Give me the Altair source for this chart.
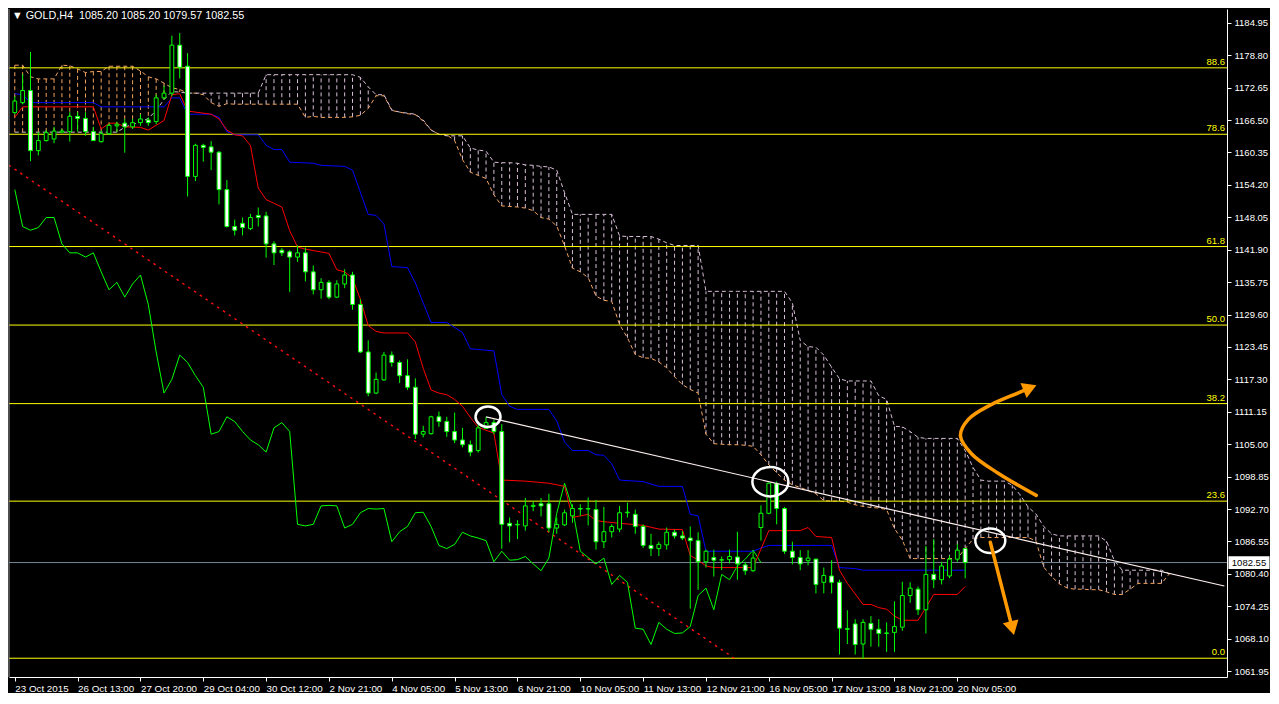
import altair as alt
import pandas as pd

W, H = 1218, 668
FONT = "Liberation Sans"

# ---------------- candles (bar index, OHLC) ----------------
opens = [1167.9,1169.8,1172.1,1160.7,1162.6,1162.9,1164.2,1164.3,1167.2,1166.8,
         1164.3,1162.4,1163.9,1165.4,1165.9,1165.2,1166.0,1166.5,1166.2,1170.7,
         1171.6,1180.7,1176.7,1155.8,1161.7,1161.4,1160.4,1153.3,1146.3,1146.9,
         1145.9,1148.4,1148.3,1143.0,1141.8,1141.5,1140.5,1141.3,1137.7,1134.3,
         1135.7,1132.9,1135.4,1137.1,1131.5,1122.5,1114.7,1117.2,1121.9,1120.5,
         1118.0,1115.8,1106.9,1107.0,1110.2,1109.3,1107.4,1105.8,1104.9,1103.8,
         1108.0,1109.1,1107.4,1090.0,1089.7,1089.5,1093.2,1093.7,1093.7,1089.1,
         1089.7,1091.4,1092.8,1092.7,1092.6,1086.5,1088.4,1088.9,1092.0,1091.7,
         1089.4,1085.8,1085.2,1085.9,1088.3,1087.6,1087.2,1086.7,1082.7,1083.5,
         1083.0,1083.1,1083.6,1082.1,1081.0,1089.2,1091.9,1097.5,1092.8,1084.7,
         1083.5,1082.9,1083.2,1078.8,1080.0,1078.8,1070.0,1070.9,1067.1,1071.0,
         1069.9,1069.1,1069.3,1070.3,1076.3,1077.5,1073.6,1080.3,1079.3,1080.0,
         1083.2,1085.20]
highs = [1171.0,1175.2,1179.4,1164.2,1164.6,1165.2,1164.8,1168.0,1168.0,1168.0,
         1165.2,1164.5,1165.9,1166.2,1166.7,1166.7,1167.6,1167.0,1171.3,1173.0,
         1182.5,1183.0,1179.2,1162.0,1162.0,1162.5,1160.6,1155.1,1147.6,1148.0,
         1148.7,1149.9,1149.1,1143.5,1142.2,1141.8,1142.7,1142.3,1138.9,1136.5,
         1136.1,1136.1,1138.2,1137.7,1132.5,1124.7,1118.6,1122.5,1122.6,1120.9,
         1121.1,1117.5,1108.5,1110.4,1111.2,1110.2,1111.0,1108.1,1105.7,1108.7,
         1110.2,1109.7,1108.8,1091.1,1090.6,1094.8,1094.2,1094.8,1095.6,1091.1,
         1092.6,1093.6,1093.6,1094.9,1094.4,1093.1,1089.8,1093.3,1093.9,1092.6,
         1089.8,1088.0,1086.5,1089.2,1088.8,1088.5,1089.4,1088.3,1085.0,1085.0,
         1083.7,1085.0,1088.4,1082.7,1084.9,1093.4,1097.7,1097.9,1093.1,1086.5,
         1084.9,1084.9,1083.3,1081.6,1083.0,1079.3,1073.5,1071.8,1071.8,1072.4,
         1071.8,1071.2,1075.2,1078.9,1078.8,1078.0,1085.7,1087.0,1082.7,1083.9,
         1086.1,1085.20]
lows = [1167.6,1169.5,1158.7,1159.8,1162.4,1162.1,1164.0,1162.4,1164.3,1163.5,
        1162.5,1162.2,1163.7,1164.2,1160.3,1164.8,1165.4,1165.4,1165.7,1170.4,
        1171.0,1174.4,1152.0,1154.9,1158.6,1157.0,1150.5,1146.1,1144.6,1144.6,
        1145.6,1146.3,1140.4,1139.0,1140.7,1133.9,1139.6,1135.9,1133.4,1132.6,
        1132.5,1132.7,1134.6,1130.5,1122.3,1114.1,1114.5,1117.0,1119.7,1116.6,
        1115.3,1106.0,1106.3,1106.8,1108.3,1106.4,1105.2,1104.4,1102.7,1103.4,
        1107.9,1106.9,1085.2,1086.4,1087.0,1088.6,1092.3,1091.3,1088.3,1088.0,
        1089.5,1090.1,1091.4,1089.6,1085.0,1085.3,1087.3,1088.3,1091.1,1088.0,
        1085.3,1083.8,1083.8,1085.0,1087.1,1086.8,1073.8,1077.4,1081.6,1079.9,
        1081.1,1082.4,1079.3,1080.2,1080.8,1086.7,1091.7,1089.8,1084.2,1082.2,
        1081.1,1082.0,1076.7,1076.7,1076.7,1065.1,1067.1,1065.1,1064.3,1066.6,
        1066.6,1065.6,1065.6,1069.6,1074.9,1072.6,1069.1,1077.7,1078.4,1079.6,
        1082.7,1079.57]
closes = [1170.1,1172.1,1160.7,1162.6,1164.1,1164.4,1164.4,1167.2,1166.8,1164.3,
          1162.6,1163.9,1165.5,1165.7,1165.2,1166.0,1166.7,1166.0,1170.7,1171.6,
          1180.7,1176.5,1155.8,1161.7,1161.3,1160.4,1153.3,1146.3,1145.6,1146.1,
          1148.0,1148.0,1143.0,1141.3,1141.3,1140.5,1141.3,1137.7,1134.3,1135.7,
          1132.9,1135.4,1137.1,1131.5,1122.5,1114.7,1117.3,1121.9,1120.5,1118.0,
          1115.8,1106.9,1107.4,1110.2,1109.3,1107.4,1105.8,1104.9,1103.5,1108.1,
          1109.1,1107.4,1089.8,1089.5,1089.8,1093.3,1093.4,1093.3,1089.1,1089.8,
          1092.0,1092.8,1092.7,1092.8,1086.5,1088.4,1089.4,1092.0,1092.1,1089.4,
          1085.8,1085.2,1086.0,1088.3,1087.6,1087.2,1086.7,1082.7,1084.7,1083.0,
          1083.1,1083.7,1082.3,1081.0,1083.4,1091.9,1097.6,1092.8,1084.7,1083.5,
          1082.3,1083.4,1078.4,1080.1,1078.8,1070.1,1069.9,1067.0,1071.2,1069.9,
          1069.1,1069.2,1070.4,1076.3,1077.7,1073.6,1080.3,1079.3,1081.9,1083.2,
          1084.9,1082.55]

# ---------------- Ichimoku ----------------
tenkan = [(0,1167.0),(1,1169.0),(10,1169.0),(11,1164.8),(12,1165.9),(13,1165.9),(14,1165.2),
          (16,1165.1),(17,1164.6),(19,1166.4),(20,1171.3),(21,1171.5),(22,1168.2),(25,1167.6),
          (26,1166.7),(27,1164.6),(28,1163.7),(29,1163.5),(30,1161.7),(31,1153.6),(32,1151.4),
          (34,1150.0),(35,1145.5),(36,1142.4),(37,1142.0),(40,1141.2),(41,1138.1),(42,1137.7),
          (43,1136.5),(44,1132.5),(45,1127.5),(46,1126.4),(47,1126.1),(50,1126.1),(51,1124.4),
          (52,1119.4),(53,1115.3),(54,1114.7),(55,1114.4),(56,1113.5),(57,1112.2),(58,1110.1),
          (59,1108.2),(61,1107.1),(62,1098.2),(65,1098.0),(68,1097.6),(70,1097.0),(71,1091.1),
          (72,1091.4),(73,1091.7),(74,1090.5),(75,1090.3),(77,1090.0),(80,1089.6),(82,1088.9),
          (85,1088.8),(86,1083.9),(87,1083.0),(88,1081.9),(89,1081.6),(94,1081.6),(95,1085.1),
          (96,1088.6),(100,1088.6),(101,1089.2),(102,1087.5),(104,1087.3),(105,1081.1),
          (106,1078.6),(108,1074.6),(109,1074.6),(110,1074.0),(111,1073.7),(112,1072.4),
          (113,1071.6),(115,1071.6),(116,1074.0),(117,1076.5),(120,1076.5),(121,1078.0)]
kijun = [(0,1171.5),(1,1171.3),(2,1169.8),(10,1169.8),(11,1169.0),(19,1169.0),(20,1170.7),
         (21,1170.7),(22,1167.6),(25,1167.6),(26,1167.0),(27,1164.3),(28,1163.7),(31,1163.7),
         (32,1161.7),(33,1160.9),(34,1160.9),(35,1158.5),(38,1158.3),(39,1157.9),(42,1157.7),
         (43,1157.0),(45,1148.6),(46,1148.4),(47,1146.8),(48,1138.7),(50,1138.5),(51,1135.6),
         (52,1131.8),(53,1128.1),(55,1128.1),(57,1126.2),(58,1123.1),(61,1122.7),(62,1114.4),
         (63,1112.2),(64,1111.6),(68,1111.6),(69,1109.4),(70,1105.4),(71,1103.8),(73,1103.8),
         (74,1103.0),(75,1102.9),(76,1101.3),(77,1098.2),(80,1097.9),(82,1097.0),(85,1097.0),
         (86,1091.7),(87,1091.4),(88,1084.7),(94,1084.7),(95,1085.3),(96,1085.8),(104,1085.8),
         (105,1081.6),(107,1081.4),(108,1081.1),(121,1081.1)]
CHIKOU_SHIFT = 26

senkou_a = [1176.9,1176.9,1174.7,1174.3,1174.3,1174.3,1176.9,1176.8,1176.2,1175.5,
            1175.7,1175.7,1176.7,1176.7,1176.7,1176.7,1175.8,1174.7,1174.3,1173.5,
            1172.6,1172.3,1171.6,1171.6,1171.3,1169.8,1169.1,1169.6,1169.5,1169.5,
            1169.5,1169.5,1169.5,1169.5,1169.5,1169.5,1169.5,1167.0,1167.2,1167.0,
            1167.0,1167.0,1167.0,1167.1,1167.4,1168.7,1171.1,1171.1,1168.3,1168.0,
            1167.7,1167.5,1166.3,1164.6,1163.8,1163.7,1162.6,1159.0,1156.6,1156.0,
            1155.4,1152.3,1150.2,1150.1,1150.0,1149.8,1149.3,1148.0,1147.7,1146.4,
            1142.6,1138.4,1137.7,1136.6,1133.1,1132.3,1132.1,1127.7,1125.2,1122.0,
            1121.4,1121.3,1120.6,1119.5,1117.8,1116.3,1115.4,1114.7,1106.9,1105.1,
            1105.0,1104.9,1104.9,1104.8,1104.6,1103.0,1101.1,1099.6,1098.2,1097.3,
            1096.8,1096.2,1095.6,1094.3,1094.2,1094.2,1094.0,1093.5,1093.2,1093.0,
            1092.9,1092.6,1089.0,1086.8,1083.3,1083.3,1083.3,1083.3,1083.3,1083.3,
            1083.3,1085.2,1087.0,1087.3,1087.3,1087.3,1087.3,1087.3,1087.3,1087.3,
            1086.7,1081.7,1079.9,1078.5,1077.7,1077.5,1077.5,1077.4,1077.4,1077.0,
            1076.5,1076.5,1077.5,1078.6,1078.6,1078.6,1078.6,1080.4]
senkou_b = [1164.2,1164.2,1164.2,1164.2,1164.2,1164.2,1164.2,1164.2,1164.2,1164.2,
            1164.2,1164.2,1164.2,1164.2,1165.1,1165.7,1166.1,1166.8,1168.3,1170.4,
            1171.9,1171.8,1171.6,1171.6,1171.6,1171.6,1171.6,1171.6,1171.6,1171.6,
            1171.6,1171.6,1175.1,1175.1,1175.1,1175.1,1175.1,1175.1,1175.1,1175.1,
            1175.1,1175.1,1175.1,1175.1,1174.6,1172.8,1171.3,1171.3,1168.4,1168.0,
            1167.8,1167.6,1166.5,1164.6,1163.8,1163.5,1163.5,1163.5,1161.2,1160.8,
            1160.6,1158.5,1158.4,1158.4,1158.3,1158.0,1157.9,1157.7,1157.6,1157.0,
            1152.7,1148.6,1148.6,1148.6,1148.6,1148.6,1148.6,1144.5,1144.4,1144.4,
            1144.4,1144.4,1143.9,1143.2,1142.7,1142.7,1142.7,1142.7,1134.0,1134.0,
            1134.0,1134.0,1134.0,1134.0,1134.0,1134.0,1134.0,1134.0,1134.0,1131.8,
            1124.7,1123.5,1123.4,1121.9,1119.6,1117.4,1117.0,1117.0,1117.0,1117.0,
            1114.2,1113.5,1108.4,1108.3,1107.4,1106.3,1106.1,1106.1,1106.1,1106.1,
            1106.1,1103.8,1100.6,1098.2,1098.0,1098.0,1098.0,1097.2,1095.4,1093.1,
            1091.8,1089.4,1088.0,1087.6,1087.6,1087.6,1087.6,1087.6,1087.6,1086.6,
            1082.9,1081.1,1081.1,1081.1,1081.1,1081.1,1081.1,1080.4]

# ---------------- Fibonacci & objects ----------------
fib_labels = ["0.0", "23.6", "38.2", "50.0", "61.8", "78.6", "88.6"]
fib_prices = [1064.4, 1094.2, 1112.7, 1127.6, 1142.5, 1163.8, 1176.4]
fib_diag_i = [-33.2, 91.6]
fib_diag_p = [1190.8, 1064.4]
trend_i = [60, 154]
trend_p = [1110.2, 1078.1]
circle_i = [60.25, 96.2, 124.2]
circle_p = [1110.2, 1097.9, 1086.7]
circle_r = [12.5, 18, 15]
curve_i = [130.05, 125.2, 121.8, 120.4, 121.4, 124.3, 127.7, 129.25]
curve_p = [1095.3, 1099.5, 1103.2, 1106.6, 1109.7, 1112.5, 1114.7, 1115.7]
shaft_i = [124.2, 127.0]
shaft_p = [1086.4, 1070.1]
head_i = [129.25, 127.0]
head_p = [1115.7, 1070.1]
head_angle = [67.5, 166]
bid_price = 1082.55

x_tick_vals = list(range(0, 121, 8))
x_tick_labels = ["23 Oct 2015", "26 Oct 13:00", "27 Oct 20:00", "29 Oct 04:00", "30 Oct 12:00",
                 "2 Nov 21:00", "4 Nov 05:00", "5 Nov 13:00", "6 Nov 21:00", "10 Nov 05:00",
                 "11 Nov 13:00", "12 Nov 21:00", "16 Nov 05:00", "17 Nov 13:00", "18 Nov 21:00",
                 "20 Nov 05:00"]
y_tick_vals = [1061.95, 1068.10, 1074.25, 1080.40, 1086.55, 1092.70, 1098.85, 1105.00, 1111.15,
               1117.30, 1123.45, 1129.60, 1135.75, 1141.90, 1148.05, 1154.20, 1160.35, 1166.50,
               1172.65, 1178.80, 1184.95]
title_text = "\u25bc GOLD,H4\u00a0\u00a01085.20 1085.20 1079.57 1082.55"

# ---------------- frames ----------------
n = len(closes)
candles = pd.DataFrame({"i": list(range(n)), "o": opens, "h": highs, "l": lows, "c": closes})
cloud = pd.DataFrame({"i": list(range(len(senkou_a))), "a": senkou_a, "b": senkou_b})
tk = pd.DataFrame(tenkan, columns=["i", "p"])
kj = pd.DataFrame(kijun, columns=["i", "p"])
ch = pd.DataFrame({"i": [k - CHIKOU_SHIFT for k in range(CHIKOU_SHIFT, n)],
                   "p": closes[CHIKOU_SHIFT:]})
fib = pd.DataFrame({"lab": fib_labels, "p": fib_prices})
diag = pd.DataFrame({"i": fib_diag_i, "p": fib_diag_p})
trend = pd.DataFrame({"i": trend_i, "p": trend_p})
circ = pd.DataFrame({"i": circle_i, "p": circle_p, "r": circle_r})
curve = pd.DataFrame({"i": curve_i, "p": curve_p, "k": list(range(len(curve_i)))})
shaft = pd.DataFrame({"i": shaft_i, "p": shaft_p})
heads = pd.DataFrame({"i": head_i, "p": head_p, "ang": head_angle})
bid = pd.DataFrame({"p": [bid_price], "t": [f"{bid_price:.2f}"]})
one = pd.DataFrame({"t": [title_text]})

xs = alt.Scale(domain=[-0.1, 153.7], nice=False, zero=False)
ys = alt.Scale(domain=[1060.84, 1187.56], nice=False, zero=False)

label_js = "[" + ",".join("'" + s + "'" for s in x_tick_labels) + "]"

x_axis = alt.Axis(values=x_tick_vals, labelExpr=label_js + "[round(datum.value/8)]",
                  orient="bottom", domainColor="white", tickColor="white", labelColor="white",
                  tickSize=4, labelAlign="left", labelPadding=2, labelFont=FONT, labelFontSize=9.8,
                  labelOverlap=False, labelFlush=False, grid=False, title=None)
y_axis = alt.Axis(values=y_tick_vals, format=".2f", orient="right", domainColor="white",
                  tickColor="white", labelColor="white", tickSize=4, labelPadding=3,
                  labelFont=FONT, labelFontSize=9.5, labelOverlap=False, labelFlush=False,
                  grid=False, title=None)


def X(f="i"):
    return alt.X(f, type="quantitative", scale=xs, axis=x_axis)


def Y(f="p"):
    return alt.Y(f, type="quantitative", scale=ys, axis=y_axis)


SAND, THISTLE = "#F4A460", "#D8BFD8"

hatch = alt.Chart(cloud).mark_rule(strokeDash=[4, 3], strokeWidth=1).encode(
    x=X(), y=Y("a"), y2="b",
    color=alt.condition("datum.a >= datum.b", alt.value(SAND), alt.value(THISTLE)))
span_a = alt.Chart(cloud).mark_line(strokeDash=[4, 3], strokeWidth=1, color=SAND).encode(x=X(), y=Y("a"))
span_b = alt.Chart(cloud).mark_line(strokeDash=[4, 3], strokeWidth=1, color=THISTLE).encode(x=X(), y=Y("b"))

fib_lines = alt.Chart(fib).mark_rule(color="#FFFF00", strokeWidth=1).encode(y=Y())
fib_text = alt.Chart(fib).mark_text(color="#FFFF00", font=FONT, fontSize=9.5, align="right",
                                    baseline="bottom", dy=-1).encode(
    x=alt.value(W - 2), y=Y(), text="lab")
diag_line = alt.Chart(diag).mark_line(color="#FF1010", strokeDash=[2.5, 4.5], strokeWidth=1.4,
                                      clip=True).encode(x=X(), y=Y())
bid_line = alt.Chart(bid).mark_rule(color="#778899", strokeWidth=1).encode(y=Y())

chik = alt.Chart(ch).mark_line(color="#00FF00", strokeWidth=1, clip=True).encode(x=X(), y=Y())
kij = alt.Chart(kj).mark_line(color="#0000FF", strokeWidth=1).encode(x=X(), y=Y())
ten = alt.Chart(tk).mark_line(color="#FF0000", strokeWidth=1).encode(x=X(), y=Y())

wicks = alt.Chart(candles).mark_rule(color="#00FF00", strokeWidth=1).encode(
    x=X(), y=Y("l"), y2="h")
bodies = alt.Chart(candles).mark_bar(width=3.8, stroke="#00FF00", strokeWidth=1).encode(
    x=X(), y=Y("o"), y2="c",
    fill=alt.condition("datum.c < datum.o", alt.value("white"), alt.value("black")))

trend_line = alt.Chart(trend).mark_line(color="#FFF0F0", strokeWidth=1.2, clip=True).encode(x=X(), y=Y())
ellipse = "M -1 0 A 1 0.82 0 1 0 1 0 A 1 0.82 0 1 0 -1 0 Z"
circles = alt.Chart(circ).mark_point(shape=ellipse, filled=False, stroke="white", strokeWidth=2.5,
                                     opacity=1).encode(
    x=X(), y=Y(), size=alt.Size("r", type="quantitative",
                                scale=alt.Scale(type="pow", exponent=2, domain=[0, 20],
                                                range=[0, 1600]), legend=None))
ORANGE = "#FF9900"
curve_line = alt.Chart(curve).mark_line(color=ORANGE, strokeWidth=3.5, interpolate="catmull-rom",
                                        strokeCap="round").encode(
    x=X(), y=Y(), order=alt.Order("k", type="quantitative"))
shaft_line = alt.Chart(shaft).mark_line(color=ORANGE, strokeWidth=3.5, strokeCap="round").encode(x=X(), y=Y())
head_marks = alt.Chart(heads).mark_point(shape="triangle-up", filled=True, color=ORANGE, size=260,
                                         opacity=1).encode(
    x=X(), y=Y(), angle=alt.Angle("ang", type="quantitative", scale=None))

title = alt.Chart(one).mark_text(color="white", font=FONT, fontSize=10.8, align="left",
                                 baseline="top").encode(
    x=alt.value(3), y=alt.value(1), text="t")
box = alt.Chart(bid).mark_point(shape="M -1 -0.31 L 1 -0.31 L 1 0.31 L -1 0.31 Z", filled=True,
                                color="white", size=1681, opacity=1).encode(
    x=alt.value(W + 22), y=Y())
box_text = alt.Chart(bid).mark_text(color="black", font=FONT, fontSize=9.5, align="center",
                                    baseline="middle").encode(
    x=alt.value(W + 22), y=Y(), text="t")
left_border = alt.Chart(one).mark_rule(color="#9a9a9a", strokeWidth=1).encode(
    x=alt.value(0), y=alt.value(0), y2=alt.value(H))

chart = alt.layer(
    hatch, span_a, span_b, fib_lines, diag_line, bid_line,
    chik, kij, ten, wicks, bodies, trend_line, circles, curve_line, shaft_line, head_marks,
    fib_text, title, box, box_text, left_border
).properties(
    width=W, height=H, padding={"left": 0, "top": 0, "right": 0, "bottom": 0}
).configure(background="black").configure_view(stroke=None)

chart.save("out.html", embed_options={"renderer": "svg", "actions": False})
